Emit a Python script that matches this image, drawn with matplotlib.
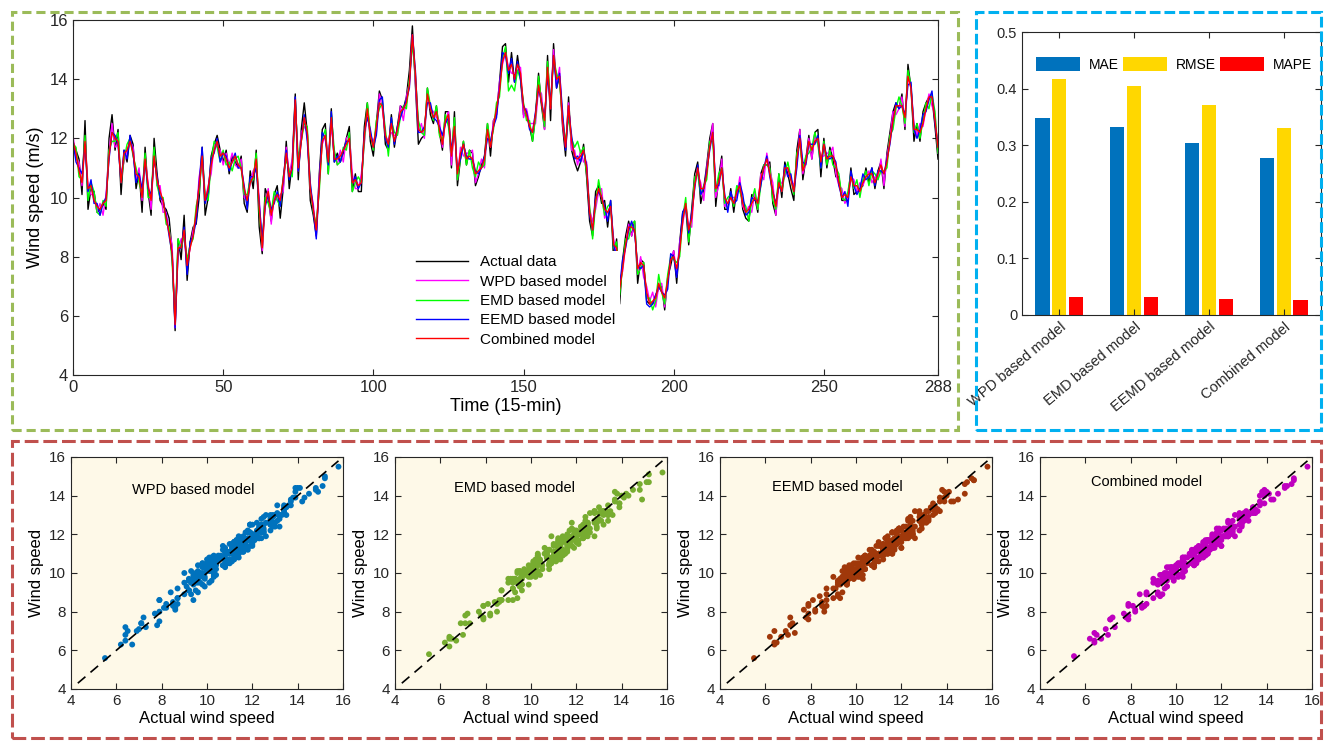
import numpy as np
import matplotlib
matplotlib.use('Agg')
import matplotlib.pyplot as plt
from matplotlib.patches import Rectangle

# values (wind speed, m/s, 15-min steps 0..288)
actual = [
    11.9, 11.6, 11.3, 10.1, 12.6, 9.6, 10.3, 10.2, 9.5, 9.6,
    9.8, 9.6, 12.0, 12.8, 11.6, 12.3, 10.1, 11.6, 11.2, 12.1,
    11.8, 10.3, 10.9, 9.5, 11.7, 10.2, 9.4, 12.0, 10.8, 9.9,
    9.7, 9.6, 9.3, 8.2, 5.5, 8.6, 7.9, 9.4, 7.2, 8.5,
    9.0, 9.1, 10.0, 11.7, 9.4, 10.0, 11.4, 11.8, 12.1, 11.6,
    11.2, 11.6, 10.8, 11.4, 11.2, 11.0, 11.4, 9.8, 9.5, 10.9,
    10.3, 11.6, 9.0, 8.1, 10.3, 10.0, 9.2, 10.1, 10.4, 9.3,
    10.3, 11.9, 10.3, 11.2, 13.5, 10.6, 12.3, 13.2, 12.2, 9.9,
    9.4, 8.7, 10.8, 12.3, 12.5, 10.8, 13.0, 11.2, 11.5, 11.2,
    11.5, 12.0, 12.4, 10.2, 10.8, 10.2, 10.2, 12.4, 13.2, 11.9,
    11.4, 12.5, 13.6, 13.3, 11.8, 11.6, 12.8, 11.7, 12.4, 13.1,
    13.0, 13.4, 14.3, 15.8, 13.8, 11.8, 12.0, 12.1, 13.7, 12.8,
    12.5, 13.1, 12.2, 11.6, 12.9, 12.9, 11.0, 12.9, 10.4, 11.3,
    11.9, 11.1, 11.6, 11.5, 10.4, 10.7, 11.1, 11.4, 12.5, 11.4,
    12.6, 12.8, 13.9, 15.1, 15.2, 13.9, 14.9, 13.9, 14.8, 14.0,
    12.8, 12.9, 12.4, 11.9, 12.8, 14.2, 13.1, 12.3, 14.8, 12.6,
    15.2, 13.7, 14.1, 12.4, 11.4, 13.4, 11.6, 11.2, 10.9, 11.2,
    11.8, 10.7, 9.2, 8.7, 10.2, 10.4, 9.8, 9.9, 9.0, 9.9,
    7.9, 8.6, 6.4, 7.9, 8.7, 9.2, 8.7, 9.2, 7.1, 7.9,
    7.8, 6.5, 6.4, 6.4, 6.7, 6.9, 7.0, 6.2, 7.3, 7.7,
    8.2, 7.1, 8.5, 9.5, 9.7, 8.4, 9.6, 10.8, 11.2, 9.8,
    10.3, 11.1, 12.0, 12.5, 9.7, 10.7, 11.4, 9.6, 9.6, 10.3,
    9.5, 10.3, 10.5, 9.6, 9.3, 9.2, 10.1, 10.0, 9.5, 10.8,
    11.1, 11.1, 11.2, 9.8, 9.4, 10.8, 10.0, 11.2, 10.8, 10.3,
    9.9, 11.6, 12.3, 10.6, 11.3, 12.1, 11.3, 12.2, 12.3, 10.7,
    12.0, 11.0, 11.7, 11.3, 10.7, 10.7, 9.9, 9.9, 9.9, 11.0,
    10.1, 10.2, 10.3, 10.4, 11.0, 10.5, 11.0, 10.3, 10.9, 11.2,
    10.3, 11.5, 12.2, 12.9, 13.2, 13.0, 13.5, 12.3, 14.5, 13.7,
    11.9, 12.5, 11.9, 12.9, 13.2, 13.4, 13.4, 12.4, 11.3,
]

wpd = [
    12.1, 11.3, 11.2, 10.4, 11.9, 10.4, 10.1, 10.1, 9.5, 9.8,
    9.4, 10.1, 11.5, 12.5, 11.7, 11.8, 10.8, 11.2, 11.6, 11.9,
    11.7, 10.6, 11.0, 9.9, 11.3, 10.5, 9.6, 11.6, 10.4, 10.4,
    9.5, 9.5, 8.9, 8.4, 5.6, 8.2, 8.6, 8.6, 7.7, 8.3,
    8.9, 9.3, 10.7, 11.3, 9.9, 10.4, 10.8, 11.8, 11.7, 11.6,
    11.1, 11.5, 11.1, 11.5, 11.1, 11.0, 11.3, 10.0, 9.9, 10.5,
    10.9, 11.1, 10.0, 8.2, 9.8, 10.3, 9.1, 10.1, 9.9, 10.1,
    10.2, 11.7, 10.8, 11.3, 13.0, 10.9, 12.2, 12.4, 12.2, 10.3,
    9.8, 8.7, 10.7, 11.8, 12.1, 11.3, 12.4, 11.5, 11.1, 11.6,
    11.2, 12.0, 12.1, 10.8, 10.3, 10.3, 10.8, 11.8, 13.0, 12.1,
    11.9, 12.2, 13.5, 13.0, 12.1, 11.9, 12.2, 12.1, 12.1, 13.1,
    12.6, 13.4, 13.9, 15.5, 13.9, 12.2, 12.5, 12.0, 13.5, 13.0,
    12.9, 12.7, 12.6, 11.7, 12.6, 12.9, 11.1, 12.6, 10.6, 11.7,
    11.4, 11.5, 11.5, 11.6, 10.5, 10.8, 11.3, 11.0, 12.3, 11.7,
    12.6, 12.8, 13.9, 14.5, 14.9, 14.4, 14.2, 14.2, 14.3, 14.4,
    12.7, 13.0, 12.5, 12.5, 12.5, 13.7, 13.5, 12.3, 14.4, 13.0,
    15.0, 13.8, 14.4, 12.5, 11.7, 13.2, 11.6, 11.6, 11.1, 11.6,
    11.2, 11.2, 9.6, 9.2, 9.6, 10.2, 10.3, 9.3, 9.5, 9.7,
    8.6, 8.1, 7.2, 7.5, 8.4, 9.1, 8.7, 9.1, 7.4, 8.0,
    7.3, 7.0, 6.5, 6.8, 6.3, 7.0, 7.1, 6.3, 7.2, 7.9,
    8.2, 7.4, 8.5, 9.1, 9.8, 9.0, 9.0, 10.6, 10.8, 10.5,
    9.9, 11.0, 11.8, 12.5, 10.0, 10.4, 11.3, 9.7, 9.8, 10.0,
    10.0, 10.0, 10.7, 9.7, 9.5, 9.7, 9.5, 10.2, 9.6, 10.8,
    10.6, 11.5, 10.9, 10.5, 9.4, 10.4, 10.5, 10.7, 11.0, 10.6,
    10.4, 11.1, 12.3, 10.8, 11.2, 12.0, 11.3, 12.1, 11.8, 11.4,
    11.4, 11.5, 11.5, 11.7, 10.8, 10.4, 10.3, 9.8, 10.0, 10.7,
    10.6, 10.2, 10.5, 10.4, 10.7, 10.9, 10.5, 10.7, 10.6, 11.3,
    10.4, 11.4, 12.0, 12.9, 12.8, 13.0, 13.4, 12.4, 14.1, 13.7,
    12.5, 12.1, 12.5, 12.4, 13.0, 13.5, 13.1, 12.8, 11.5,
]

emd = [
    11.8, 11.7, 10.7, 10.6, 12.1, 9.9, 10.5, 10.2, 9.5, 9.4,
    9.9, 9.7, 11.6, 11.9, 11.9, 12.2, 10.5, 11.3, 11.8, 12.0,
    11.4, 11.0, 10.5, 10.1, 11.5, 10.0, 10.0, 11.7, 10.4, 10.0,
    10.0, 9.1, 9.0, 7.8, 5.8, 8.6, 8.3, 8.7, 7.9, 8.4,
    8.6, 9.7, 10.2, 11.5, 10.1, 9.9, 11.2, 11.9, 11.7, 11.2,
    11.6, 11.1, 11.2, 10.9, 11.3, 11.4, 11.0, 10.1, 10.1, 10.6,
    10.6, 11.5, 9.5, 8.4, 10.0, 9.8, 9.5, 10.2, 9.9, 9.7,
    10.7, 11.3, 10.9, 10.7, 13.2, 11.3, 11.9, 12.5, 12.4, 10.4,
    9.5, 9.1, 10.2, 12.0, 12.3, 10.8, 12.8, 11.6, 11.1, 11.2,
    11.7, 11.6, 12.2, 10.2, 10.5, 10.7, 10.5, 11.9, 13.2, 12.2,
    11.6, 12.6, 13.0, 13.2, 12.3, 11.4, 12.6, 12.2, 12.1, 12.7,
    13.1, 13.0, 14.0, 15.2, 14.1, 12.6, 12.2, 12.1, 13.7, 13.1,
    12.6, 13.1, 12.1, 11.9, 12.8, 12.4, 11.5, 12.7, 10.6, 11.3,
    11.9, 11.1, 11.6, 11.0, 10.7, 11.2, 11.0, 11.1, 12.5, 11.8,
    12.3, 13.2, 13.4, 14.7, 15.1, 13.6, 13.8, 13.6, 14.3, 14.0,
    13.2, 12.6, 12.6, 11.9, 12.7, 14.1, 13.2, 12.4, 14.6, 13.1,
    14.7, 14.2, 13.9, 12.7, 11.9, 12.7, 12.0, 11.7, 11.9, 11.5,
    11.7, 10.8, 9.7, 8.6, 9.8, 10.6, 10.0, 9.4, 9.7, 9.8,
    8.3, 8.5, 6.7, 7.7, 8.6, 8.6, 9.1, 9.2, 7.4, 7.6,
    7.8, 6.6, 6.6, 6.2, 6.5, 7.4, 6.8, 6.4, 7.4, 8.0,
    7.9, 7.8, 8.0, 9.3, 10.0, 8.5, 9.4, 10.7, 10.8, 10.1,
    10.4, 10.6, 11.9, 11.9, 10.2, 10.8, 11.0, 9.8, 10.0, 10.1,
    9.7, 10.4, 10.2, 9.9, 9.7, 9.2, 9.9, 10.3, 9.6, 10.4,
    11.1, 11.1, 11.0, 9.9, 9.6, 10.8, 10.2, 10.8, 11.2, 10.7,
    10.1, 11.5, 11.8, 11.0, 11.4, 11.5, 11.7, 12.2, 11.8, 11.0,
    11.9, 11.1, 11.6, 11.1, 11.0, 10.8, 10.0, 9.9, 10.2, 10.8,
    10.3, 10.6, 10.0, 10.6, 10.9, 10.4, 10.9, 10.8, 10.6, 10.9,
    10.9, 11.0, 12.1, 12.3, 13.0, 13.4, 13.1, 12.5, 14.3, 13.8,
    12.2, 12.5, 12.0, 12.6, 13.2, 13.0, 13.5, 12.9, 11.5,
]

eemd = [
    11.9, 11.2, 11.0, 10.8, 11.8, 10.2, 10.6, 9.8, 9.8, 9.4,
    9.8, 10.0, 11.3, 12.2, 12.1, 11.8, 10.5, 11.6, 11.3, 12.1,
    11.5, 10.5, 10.8, 10.3, 11.2, 10.3, 10.1, 11.3, 10.7, 10.0,
    9.9, 9.4, 8.7, 8.1, 5.6, 8.2, 8.3, 9.0, 7.4, 8.5,
    8.7, 9.2, 10.5, 11.7, 9.8, 10.2, 11.3, 11.5, 12.0, 11.2,
    11.5, 11.4, 10.9, 11.2, 11.5, 11.0, 11.0, 10.4, 9.6, 10.7,
    10.7, 11.0, 9.8, 8.6, 9.7, 10.1, 9.6, 9.8, 10.2, 9.7,
    10.6, 11.6, 10.6, 11.0, 13.4, 10.9, 11.9, 12.8, 11.9, 10.5,
    9.6, 8.6, 10.5, 12.2, 12.0, 11.1, 12.9, 11.2, 11.4, 11.2,
    11.6, 11.9, 11.9, 10.5, 10.7, 10.3, 10.5, 12.2, 12.7, 12.3,
    11.7, 12.1, 13.3, 13.4, 12.0, 11.7, 12.7, 11.8, 12.4, 12.7,
    13.0, 13.3, 13.7, 15.5, 14.3, 12.2, 12.2, 12.4, 13.2, 13.2,
    12.7, 12.6, 12.4, 12.1, 12.5, 12.7, 11.6, 12.3, 10.9, 11.3,
    11.8, 11.4, 11.3, 11.3, 10.9, 10.8, 11.0, 11.4, 12.0, 11.9,
    12.4, 12.7, 13.7, 14.9, 14.8, 14.2, 14.7, 13.9, 14.6, 14.0,
    13.1, 12.9, 12.3, 12.2, 12.9, 13.7, 13.2, 12.7, 14.1, 13.2,
    14.8, 13.7, 14.2, 12.9, 11.6, 13.0, 12.1, 11.3, 11.4, 11.2,
    11.6, 11.1, 9.4, 8.9, 10.0, 10.2, 10.0, 9.7, 9.2, 9.9,
    8.4, 8.0, 7.0, 7.9, 8.3, 8.9, 9.2, 8.8, 7.7, 7.6,
    7.7, 6.4, 6.3, 6.4, 6.7, 7.0, 6.8, 6.7, 6.9, 8.1,
    8.0, 7.3, 8.3, 9.5, 9.7, 8.8, 9.5, 10.3, 11.1, 10.1,
    10.3, 10.9, 11.6, 12.2, 10.4, 10.4, 11.0, 10.1, 9.5, 10.2,
    9.8, 9.9, 10.5, 10.1, 9.4, 9.5, 10.0, 9.9, 9.9, 10.4,
    11.0, 11.4, 10.7, 10.2, 9.8, 10.4, 10.2, 11.1, 10.7, 10.8,
    10.2, 11.0, 12.1, 11.2, 11.1, 11.8, 11.8, 11.8, 12.1, 11.0,
    11.8, 11.4, 11.3, 11.4, 11.2, 10.4, 10.0, 10.2, 9.7, 10.9,
    10.4, 10.1, 10.3, 10.8, 10.6, 10.7, 11.0, 10.4, 10.9, 10.9,
    10.8, 11.3, 11.8, 12.6, 13.2, 13.0, 13.1, 12.8, 13.8, 13.9,
    12.3, 12.0, 12.3, 12.8, 12.9, 13.3, 13.6, 12.5, 11.8,
]

combined = [
    11.9, 11.5, 10.9, 10.5, 11.9, 10.3, 10.4, 9.9, 9.7, 9.6,
    9.8, 9.9, 11.4, 12.2, 12.0, 11.9, 10.5, 11.5, 11.6, 11.9,
    11.5, 10.8, 10.7, 10.0, 11.3, 10.4, 9.9, 11.4, 10.6, 10.2,
    9.9, 9.3, 8.8, 8.1, 5.7, 8.3, 8.3, 8.9, 7.7, 8.3,
    8.7, 9.5, 10.4, 11.4, 9.9, 10.3, 11.1, 11.6, 11.9, 11.4,
    11.5, 11.3, 11.0, 11.2, 11.4, 11.1, 11.0, 10.3, 9.9, 10.5,
    10.7, 11.3, 9.7, 8.3, 9.8, 10.2, 9.4, 9.9, 10.1, 9.9,
    10.6, 11.5, 10.7, 11.0, 13.3, 11.0, 11.9, 12.7, 12.2, 10.3,
    9.6, 8.9, 10.4, 11.9, 12.1, 11.2, 12.7, 11.3, 11.3, 11.4,
    11.6, 11.8, 12.0, 10.5, 10.6, 10.4, 10.5, 12.1, 13.0, 12.1,
    11.7, 12.4, 13.2, 13.1, 12.1, 11.8, 12.5, 11.9, 12.3, 12.9,
    13.0, 13.2, 13.8, 15.5, 14.2, 12.3, 12.2, 12.3, 13.5, 13.0,
    12.7, 12.9, 12.3, 11.8, 12.6, 12.8, 11.4, 12.4, 10.8, 11.5,
    11.8, 11.3, 11.4, 11.3, 10.8, 10.9, 11.0, 11.3, 12.3, 11.7,
    12.4, 13.0, 13.6, 14.6, 14.9, 14.3, 14.5, 14.0, 14.5, 14.2,
    13.1, 12.8, 12.4, 12.2, 12.8, 13.8, 13.2, 12.6, 14.4, 13.0,
    14.8, 14.0, 14.1, 12.6, 11.7, 13.1, 11.9, 11.4, 11.3, 11.4,
    11.6, 11.0, 9.5, 8.9, 9.9, 10.3, 10.0, 9.6, 9.5, 9.7,
    8.4, 8.3, 6.9, 7.6, 8.4, 9.0, 9.0, 8.9, 7.6, 7.8,
    7.7, 6.8, 6.4, 6.5, 6.6, 7.1, 6.8, 6.6, 7.2, 7.9,
    8.0, 7.6, 8.2, 9.2, 9.8, 8.9, 9.3, 10.4, 11.0, 10.3,
    10.3, 10.8, 11.7, 12.2, 10.3, 10.5, 11.0, 10.0, 9.8, 10.0,
    9.8, 10.2, 10.4, 9.8, 9.5, 9.6, 9.8, 10.0, 9.8, 10.6,
    11.0, 11.3, 10.8, 10.2, 9.7, 10.5, 10.2, 11.0, 11.0, 10.6,
    10.2, 11.3, 12.0, 10.9, 11.2, 11.9, 11.6, 11.9, 12.0, 11.2,
    11.8, 11.3, 11.4, 11.4, 11.1, 10.5, 10.0, 10.1, 10.0, 10.7,
    10.4, 10.4, 10.2, 10.5, 10.7, 10.8, 10.8, 10.5, 10.8, 11.1,
    10.8, 11.2, 11.9, 12.6, 13.1, 13.1, 13.1, 12.7, 14.1, 13.7,
    12.3, 12.3, 12.2, 12.5, 13.0, 13.4, 13.4, 12.6, 11.7,
]

models = ['WPD based model', 'EMD based model', 'EEMD based model', 'Combined model']
mae = [0.348, 0.332, 0.304, 0.278]
rmse = [0.417, 0.404, 0.371, 0.331]
mape = [0.032, 0.031, 0.029, 0.026]

line_colors = ['#FF00FF', '#00FF00', '#0000FF', '#FF0000']
dot_colors = ['#0072BD', '#77AC30', '#A0380A', '#BF00BF']
ink = '#262626'

plt.rcParams['font.family'] = ['Liberation Sans', 'DejaVu Sans']
plt.rcParams['axes.edgecolor'] = ink
plt.rcParams['xtick.color'] = ink
plt.rcParams['ytick.color'] = ink

W, H = 1324, 741


def box(x0, y0, x1, y1):
    # pixel box (top-left origin) -> figure fraction rect
    return [x0 / W, 1 - y1 / H, (x1 - x0) / W, (y1 - y0) / H]


def matlab_ticks(ax, size):
    ax.tick_params(direction='in', top=True, right=True, length=4,
                   width=0.8, labelsize=size)


fig = plt.figure(figsize=(W / 100, H / 100), dpi=100)

# ---- time series ----
ax = fig.add_axes(box(73, 20, 938, 375))
time = np.arange(len(actual))
ax.plot(time, actual, color='black', lw=1.0, label='Actual data')
for series, c, name in zip([wpd, emd, eemd, combined], line_colors, models):
    ax.plot(time, series, color=c, lw=1.0, label=name)
ax.set_xlim(0, 288)
ax.set_ylim(4, 16)
ax.set_xticks([0, 50, 100, 150, 200, 250, 288])
ax.set_yticks([4, 6, 8, 10, 12, 14, 16])
matlab_ticks(ax, 12)
ax.set_xlabel('Time (15-min)', fontsize=13, labelpad=2)
ax.set_ylabel('Wind speed (m/s)', fontsize=13)
ax.legend(loc='lower left', bbox_to_anchor=(0.382, 0.045), fontsize=11,
          handlelength=3.4, handletextpad=0.8, labelspacing=0.35,
          borderpad=0.3, frameon=True, fancybox=False, edgecolor='none',
          facecolor='white', framealpha=1)

# ---- error bars ----
bx = fig.add_axes(box(1022, 32, 1321, 315))
pos = np.arange(1, len(models) + 1)
bx.bar(pos - 0.225, mae, width=0.19, color='#0072BD', label='MAE')
bx.bar(pos, rmse, width=0.19, color='#FFD700', label='RMSE')
bx.bar(pos + 0.225, mape, width=0.19, color='#FF0000', label='MAPE')
bx.set_xlim(0.5, 4.5)
bx.set_ylim(0, 0.5)
bx.set_yticks([0, 0.1, 0.2, 0.3, 0.4, 0.5])
bx.set_yticklabels(['0', '0.1', '0.2', '0.3', '0.4', '0.5'])
bx.set_xticks(pos)
bx.set_xticklabels(models, rotation=40, ha='right', rotation_mode='anchor')
matlab_ticks(bx, 10.5)
bx.legend(loc='center left', bbox_to_anchor=(0.047, 0.885), ncol=3,
          fontsize=10, frameon=False, handlelength=3.2, handleheight=1.1,
          handletextpad=0.6, columnspacing=0.3, borderpad=0, borderaxespad=0)

# ---- scatter panels ----
lefts = [71, 395, 720, 1040]
name_xy = [(9.4, 14.3), (9.25, 14.4), (9.2, 14.45), (8.7, 14.7)]
for i, series in enumerate([wpd, emd, eemd, combined]):
    sx = fig.add_axes(box(lefts[i], 457, lefts[i] + 272, 689))
    sx.set_facecolor('#FEF9E8')
    sx.scatter(actual, series, s=18, color=dot_colors[i], edgecolors='none', zorder=3)
    sx.plot([4.3, 15.8], [4.3, 15.8], color='black', lw=1.2, ls=(0, (6, 4)), zorder=4)
    sx.set_xlim(4, 16)
    sx.set_ylim(4, 16)
    sx.set_xticks([4, 6, 8, 10, 12, 14, 16])
    sx.set_yticks([4, 6, 8, 10, 12, 14, 16])
    matlab_ticks(sx, 11)
    sx.set_xlabel('Actual wind speed', fontsize=12, labelpad=2)
    sx.set_ylabel('Wind speed', fontsize=12, labelpad=4)
    sx.text(*name_xy[i], models[i], fontsize=10.5, ha='center', va='center')

# ---- dashed panel frames ----
frames = [
    ((12, 12, 958, 430), '#9BBB59', (0, (3, 1.6))),
    ((976, 12, 1321, 430), '#00B0F0', (0, (3.5, 1.3))),
    ((12, 441, 1321, 738), '#C0504D', (0, (4.5, 1.6))),
]
for (x0, y0, x1, y1), c, ls in frames:
    fig.add_artist(Rectangle((x0 / W, 1 - y1 / H), (x1 - x0) / W, (y1 - y0) / H,
                             transform=fig.transFigure, fill=False,
                             edgecolor=c, lw=2.2, ls=ls))

fig.savefig('out.png', dpi=100)
